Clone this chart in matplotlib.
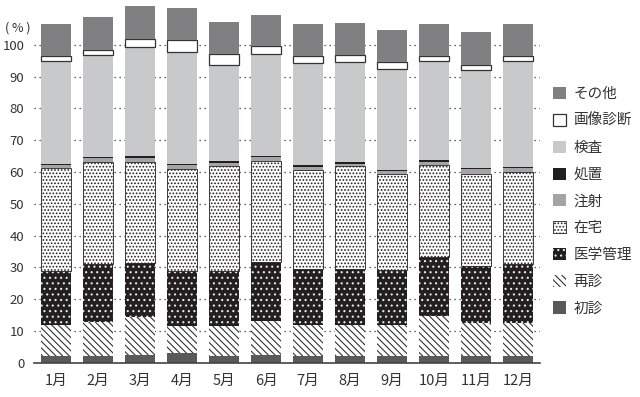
import matplotlib.pyplot as plt
import numpy as np

plt.rcParams['font.family'] = ['Noto Sans CJK JP', 'DejaVu Sans']
plt.rcParams['hatch.linewidth'] = 0.8

months = ['1月', '2月', '3月', '4月', '5月', '6月', '7月', '8月', '9月', '10月', '11月', '12月']

# segment values (bottom to top)
shoshin = [2.1, 2.2, 2.5, 3.0, 2.0, 2.5, 2.0, 2.2, 2.1, 2.2, 2.1, 2.2]
saishin = [9.7, 10.6, 11.8, 8.7, 9.7, 10.7, 9.8, 9.7, 9.7, 12.6, 10.5, 10.4]
igaku = [17.2, 18.3, 17.2, 17.3, 17.3, 18.4, 17.8, 17.7, 17.3, 18.6, 17.8, 18.5]
zaitaku = [32.2, 32.0, 31.8, 32.0, 32.9, 31.8, 31.1, 32.3, 30.2, 28.7, 29.0, 28.9]
chusha = [0.9, 1.2, 1.2, 1.1, 1.1, 1.4, 1.0, 0.8, 1.0, 1.2, 1.5, 1.2]
shochi = [0.4, 0.5, 0.6, 0.5, 0.5, 0.4, 0.5, 0.6, 0.4, 0.6, 0.5, 0.5]
kensa = [32.4, 32.1, 34.2, 35.1, 30.1, 31.9, 32.0, 31.2, 31.8, 30.9, 30.7, 33.1]
gazo = [1.6, 1.6, 2.7, 3.7, 3.5, 2.4, 2.3, 2.2, 2.0, 1.7, 1.6, 1.7]
sonota = [10.1, 10.2, 10.2, 10.2, 10.1, 10.0, 10.1, 10.2, 10.3, 10.1, 10.4, 10.1]

series = [
    ('初診', shoshin, dict(color='#58595b', lw=0)),
    ('再診', saishin, dict(facecolor='white', edgecolor='#333333', hatch='\\' * 5, lw=0)),
    ('医学管理', igaku, dict(facecolor='#231f20', edgecolor='#e8e8e8', hatch='...', lw=0)),
    ('在宅', zaitaku, dict(facecolor='white', edgecolor='#231f20', hatch='.....', lw=0.6)),
    ('注射', chusha, dict(color='#a4a4a6', lw=0)),
    ('処置', shochi, dict(color='#231f20', lw=0)),
    ('検査', kensa, dict(color='#c8c9ca', lw=0)),
    ('画像診断', gazo, dict(facecolor='white', edgecolor='#333333', lw=0.9)),
    ('その他', sonota, dict(color='#808082', lw=0)),
]

fig = plt.figure(figsize=(6.4, 3.97), dpi=100)
ax = fig.add_axes([0.053, 0.086, 0.791, 0.913])

x = np.arange(len(months))
bottom = np.zeros(len(months))
handles = []
for name, vals, style in series:
    b = ax.bar(x, vals, 0.72, bottom=bottom, label=name, zorder=2, **style)
    handles.append(b)
    bottom += np.array(vals)

ax.set_xlim(-0.52, 11.52)
ax.set_ylim(0, 114)
ax.set_yticks(np.arange(0, 101, 10))
ax.set_xticks(x)
ax.set_xticklabels(months, fontsize=10.5, color='#333333')
ax.tick_params(axis='y', length=0, labelsize=9.5, labelcolor='#333333', pad=7)
ax.tick_params(axis='x', length=0, pad=8)
ax.yaxis.grid(True, linestyle=(0, (1, 3)), color='#333333', linewidth=0.9)
ax.set_axisbelow(True)
for s in ['top', 'right', 'left']:
    ax.spines[s].set_visible(False)
ax.spines['bottom'].set_color('#444444')
ax.spines['bottom'].set_linewidth(1.2)

fig.text(0.008, 0.93, '( % )', fontsize=9, color='#333333', va='center')

fig.legend(handles[::-1], [s[0] for s in series][::-1],
           loc='upper left', bbox_to_anchor=(0.855, 0.795), frameon=False,
           fontsize=10.5, labelspacing=0.87, handlelength=0.9, handleheight=0.9,
           handletextpad=0.5, borderaxespad=0, labelcolor='#333333')

fig.savefig('out.png', dpi=100)
